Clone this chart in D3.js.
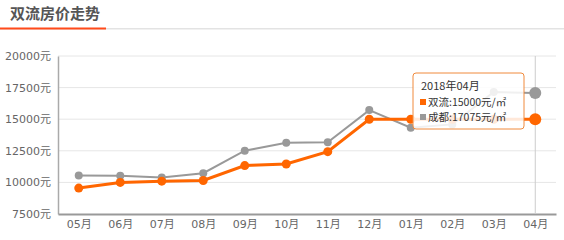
<!DOCTYPE html>
<html>
<head>
<meta charset="utf-8">
<script src="https://cdn.jsdelivr.net/npm/d3@7"></script>
<style>
  body { margin: 0; background: #fff; font-family: "Noto Sans CJK SC", "DejaVu Sans", sans-serif; }
  .axis text { fill: #666; font-size: 11px; font-family: "DejaVu Sans", "Noto Sans CJK SC", sans-serif; }
</style>
</head>
<body>
<div id="chart"></div>
<script>
var months = ['05月','06月','07月','08月','09月','10月','11月','12月','01月','02月','03月','04月']
var shuangliu = [9550,10000,10100,10150,11330,11460,12430,15000,15000,15000,15000,15000]
var chengdu = [10540,10520,10390,10730,12510,13140,13170,15720,14330,14590,17150,17075]
var yTicks = [7500,10000,12500,15000,17500,20000]
var seriesNames = ['双流','成都']
var seriesColors = ['#ff6600','#999999']
var tipTitle = '2018年04月'
var hoverIndex = 11

var fullWidth = 564, fullHeight = 240
var margin = {top: 56, right: 8, bottom: 26, left: 58}
var width = fullWidth - margin.left - margin.right
var height = fullHeight - margin.top - margin.bottom

var svg = d3.select('#chart').append('svg')
  .attr('width', fullWidth)
  .attr('height', fullHeight)

// title
svg.append('text')
  .attr('x', 10).attr('y', 19)
  .attr('font-size', 15).attr('font-weight', 'bold')
  .attr('fill', '#555')
  .text('双流房价走势')
svg.append('rect').attr('x', 0).attr('y', 28).attr('width', fullWidth).attr('height', 1.5).attr('fill', '#e3e3e3')
svg.append('rect').attr('x', 0).attr('y', 27.5).attr('width', 106).attr('height', 2).attr('fill', '#ff4a1a')

var g = svg.append('g').attr('transform', 'translate(' + margin.left + ',' + margin.top + ')')

var x = d3.scalePoint().domain(months).range([0, width]).padding(0.5)
var y = d3.scaleLinear().domain([7500, 20000]).range([height, 0])

// grid
g.selectAll('.grid').data(yTicks.slice(1)).enter().append('line')
  .attr('x1', 0).attr('x2', width)
  .attr('y1', function(d) { return y(d) }).attr('y2', function(d) { return y(d) })
  .attr('stroke', '#e6e6e6').attr('stroke-width', 1)

var yAxis = g.append('g').attr('class', 'axis')
  .call(d3.axisLeft(y).tickValues(yTicks).tickSize(0).tickPadding(7).tickFormat(function(d) { return d + '元' }))
yAxis.select('.domain').attr('stroke', '#aaa').attr('stroke-width', 1.5)

var xAxis = g.append('g').attr('class', 'axis')
  .attr('transform', 'translate(0,' + height + ')')
  .call(d3.axisBottom(x).tickSize(0).tickPadding(6))
xAxis.select('.domain').attr('stroke', '#999').attr('stroke-width', 2)

// crosshair
g.append('line')
  .attr('x1', x(months[hoverIndex])).attr('x2', x(months[hoverIndex]))
  .attr('y1', 0).attr('y2', height)
  .attr('stroke', '#ccc').attr('stroke-width', 1)

var line = d3.line()
  .x(function(d, i) { return x(months[i]) })
  .y(function(d) { return y(d) })

var series = [chengdu, shuangliu]
var cols = [seriesColors[1], seriesColors[0]]
var widths = [2, 3]
var radii = [4, 4.5]
series.forEach(function(s, k) {
  g.append('path').datum(s)
    .attr('fill', 'none').attr('stroke', cols[k]).attr('stroke-width', widths[k])
    .attr('d', line)
  g.selectAll('.pt' + k).data(s).enter().append('circle')
    .attr('cx', function(d, i) { return x(months[i]) })
    .attr('cy', function(d) { return y(d) })
    .attr('r', function(d, i) { return i == hoverIndex ? 6 : radii[k] })
    .attr('fill', cols[k])
})

// tooltip
var tip = svg.append('g').attr('transform', 'translate(413,73)')
tip.append('rect')
  .attr('width', 111).attr('height', 56).attr('rx', 3)
  .attr('fill', 'rgba(255,255,255,0.85)').attr('stroke', '#f08a3c').attr('stroke-width', 1)
tip.append('text').attr('x', 8).attr('y', 17).attr('font-size', 11).attr('fill', '#333').text(tipTitle)
var vals = [shuangliu[hoverIndex], chengdu[hoverIndex]]
vals.forEach(function(v, k) {
  tip.append('rect').attr('x', 7).attr('y', 26 + k * 15).attr('width', 6).attr('height', 6).attr('fill', seriesColors[k])
  tip.append('text').attr('x', 15).attr('y', 33 + k * 15).attr('font-size', 10.5).attr('fill', '#333')
    .text(seriesNames[k] + ':' + v + '元/㎡')
})
</script>
</body>
</html>
